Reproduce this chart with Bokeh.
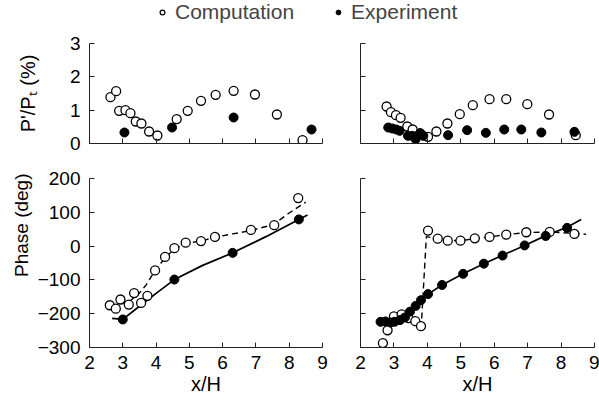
from bokeh.plotting import figure
from bokeh.models import Range1d, Legend, LegendItem, FixedTicker, Title
from bokeh.layouts import column, row
from bokeh.embed import file_html
from bokeh.resources import INLINE

# ---------------- data ----------------
x_ticks = [2, 3, 4, 5, 6, 7, 8, 9]
amp_ticks = [0, 1, 2, 3]
phase_ticks = [-300, -200, -100, 0, 100, 200]

# top-left: amplitude
tl_comp_x = [2.63, 2.80, 2.89, 3.08, 3.23, 3.39, 3.56, 3.79, 4.04, 4.62, 4.95, 5.35, 5.79, 6.33, 6.97, 7.63, 8.40]
tl_comp_y = [1.39, 1.57, 0.98, 1.00, 0.91, 0.66, 0.60, 0.36, 0.24, 0.73, 0.98, 1.28, 1.46, 1.58, 1.47, 0.87, 0.10]
tl_exp_x = [3.05, 4.48, 6.33, 8.67]
tl_exp_y = [0.33, 0.48, 0.78, 0.42]

# top-right: amplitude
tr_comp_x = [2.78, 2.91, 3.06, 3.20, 3.40, 3.56, 3.79, 4.02, 4.27, 4.60, 4.97, 5.36, 5.86, 6.36, 6.99, 7.64, 8.44]
tr_comp_y = [1.11, 0.94, 0.85, 0.77, 0.51, 0.42, 0.30, 0.20, 0.36, 0.60, 0.88, 1.15, 1.33, 1.33, 1.18, 0.87, 0.25]
tr_exp_x = [2.83, 2.95, 3.07, 3.17, 3.42, 3.55, 3.65, 3.78, 3.88, 4.62, 5.19, 5.75, 6.30, 6.81, 7.41, 8.40]
tr_exp_y = [0.48, 0.45, 0.42, 0.38, 0.23, 0.23, 0.13, 0.31, 0.23, 0.25, 0.40, 0.32, 0.42, 0.42, 0.33, 0.35]

# bottom-left: phase
bl_comp_x = [2.61, 2.79, 2.93, 3.18, 3.34, 3.55, 3.74, 3.97, 4.27, 4.55, 4.89, 5.35, 5.77, 6.85, 7.55, 8.27]
bl_comp_y = [-175, -185, -158, -173, -139, -168, -147, -72, -32, -6, 10, 15, 27, 48, 62, 142]
bl_comp_line_x = [2.6, 2.9, 3.2, 3.45, 3.7, 3.97, 4.27, 4.55, 4.89, 5.35, 5.77, 6.3, 6.85, 7.53, 8.0, 8.5]
bl_comp_line_y = [-178, -170, -163, -145, -115, -72, -35, -8, 8, 15, 26, 36, 46, 64, 98, 130]
bl_exp_x = [3.0, 4.55, 6.30, 8.29]
bl_exp_y = [-217, -99, -20, 79]
bl_exp_line_x = [2.68, 3.0, 3.5, 4.0, 4.55, 5.4, 6.3, 7.3, 8.29, 8.55]
bl_exp_line_y = [-214, -217, -178, -140, -99, -57, -20, 28, 79, 92]

# bottom-right: phase
br_comp_x = [2.67, 2.81, 3.00, 3.23, 3.44, 3.64, 3.81, 4.02, 4.31, 4.61, 4.99, 5.42, 5.86, 6.36, 6.96, 7.66, 8.40]
br_comp_y = [-287, -249, -208, -202, -213, -222, -237, 46, 22, 16, 16, 23, 27, 34, 41, 42, 36]
br_comp_line_x = [2.62, 2.81, 3.0, 3.23, 3.44, 3.64, 3.82, 3.97, 4.31, 4.61, 4.99, 5.42, 5.86, 6.36, 6.96, 7.66, 8.0, 8.75]
br_comp_line_y = [-222, -215, -208, -203, -212, -222, -233, 28, 22, 17, 16, 22, 27, 34, 40, 42, 40, 35]
br_exp_x = [2.60, 2.75, 2.90, 3.02, 3.18, 3.33, 3.48, 3.65, 3.81, 4.02, 4.44, 5.07, 5.69, 6.25, 6.91, 7.54, 8.18]
br_exp_y = [-224, -223, -226, -224, -219, -211, -194, -177, -160, -142, -115, -82, -52, -28, 2, 30, 54]
br_exp_line_x = [2.52, 3.0, 3.2, 3.45, 3.65, 4.02, 4.44, 5.07, 5.69, 6.25, 6.91, 7.54, 8.18, 8.60]
br_exp_line_y = [-223, -224, -218, -200, -178, -142, -115, -82, -52, -27, 2, 31, 56, 79]

legend_labels = ["Computation", "Experiment"]
amp_label = "P'/P\u209c (%)"
phase_label = "Phase (deg)"
x_label = "x/H"

# ---------------- style ----------------
FONT = "Liberation Sans"
TICK_FS = "19px"
LAB_FS = "20px"
MSIZE = 9

LEFT_W, RIGHT_W = 334, 265
TOP_H, BOT_H = 129, 244


def make_fig(width, height, bl, br, bt, bb, yrange, yticks, show_xlabels, show_ylabels):
    p = figure(width=width, height=height, x_range=Range1d(2, 9), y_range=Range1d(*yrange),
               output_backend="svg", toolbar_location=None,
               min_border_left=bl, min_border_right=br, min_border_top=bt, min_border_bottom=bb)
    p.outline_line_color = None
    p.grid.visible = False
    for ax in p.axis:
        ax.major_tick_in = 5
        ax.major_tick_out = 0
        ax.minor_tick_line_color = None
        ax.axis_line_color = "#222222"
        ax.major_tick_line_color = "#222222"
        ax.major_label_text_font = FONT
        ax.major_label_text_font_size = TICK_FS
        ax.major_label_text_color = "black"
        ax.axis_label_text_font = FONT
        ax.axis_label_text_font_size = LAB_FS
        ax.axis_label_text_font_style = "normal"
        ax.axis_label_text_color = "black"
    p.xaxis.ticker = FixedTicker(ticks=x_ticks)
    p.yaxis.ticker = FixedTicker(ticks=yticks)
    p.xaxis.major_label_standoff = 8
    p.yaxis.major_label_standoff = 9
    if not show_xlabels:
        p.xaxis.major_label_text_font_size = "0px"
        p.xaxis.major_label_text_color = None
        p.xaxis.major_label_standoff = 0
    else:
        p.xaxis.axis_label = x_label
        p.xaxis.axis_label_standoff = 1
    if not show_ylabels:
        p.yaxis.major_label_text_font_size = "0px"
        p.yaxis.major_label_text_color = None
        p.yaxis.major_label_standoff = 0
    return p


def open_pts(p, x, y, size=MSIZE):
    return p.scatter(x, y, marker="circle", size=size, fill_color="white", line_color="black", line_width=1.3)


def filled_pts(p, x, y, size=MSIZE):
    return p.scatter(x, y, marker="circle", size=size, fill_color="black", line_color="black", line_width=1)


# legend strip (its marker renderers sit outside the visible range; only the legend shows)
lg = figure(width=599, height=28, x_range=Range1d(0, 1), y_range=Range1d(0, 1),
            x_axis_location=None, y_axis_location=None, output_backend="svg",
            toolbar_location=None, min_border=0)
lg.outline_line_color = None
lg.grid.visible = False
r_open = lg.scatter([-5], [-5], marker="circle", size=7, fill_color="white", line_color="black", line_width=1.2)
r_fill = lg.scatter([-5], [-5], marker="circle", size=7, fill_color="black", line_color="black")
legend = Legend(items=[LegendItem(label=legend_labels[0], renderers=[r_open]),
                       LegendItem(label=legend_labels[1], renderers=[r_fill])],
                orientation="horizontal", location=(156, 4),
                glyph_width=12, glyph_height=12, label_standoff=7, spacing=38,
                padding=0, margin=0, border_line_color=None, background_fill_alpha=0,
                label_text_font=FONT, label_text_font_size="21px")
lg.add_layout(legend)

# top-left
tl = make_fig(LEFT_W, TOP_H, 89, 12, 15, 14, (0, 3), amp_ticks, False, True)
tl.yaxis.axis_label = amp_label
tl.yaxis.axis_label_standoff = 28
open_pts(tl, tl_comp_x, tl_comp_y)
filled_pts(tl, tl_exp_x, tl_exp_y)

# top-right
tr = make_fig(RIGHT_W, TOP_H, 26, 5, 15, 14, (0, 3), amp_ticks, False, False)
open_pts(tr, tr_comp_x, tr_comp_y)
filled_pts(tr, tr_exp_x, tr_exp_y)

# bottom-left
bl = make_fig(LEFT_W, BOT_H, 89, 12, 21, 54, (-300, 200), phase_ticks, True, True)
bl.line(bl_comp_line_x, bl_comp_line_y, line_color="black", line_width=1.4, line_dash="6 4")
bl.line(bl_exp_line_x, bl_exp_line_y, line_color="black", line_width=1.7)
open_pts(bl, bl_comp_x, bl_comp_y)
filled_pts(bl, bl_exp_x, bl_exp_y)
bl.add_layout(Title(text=phase_label, align="right", offset=-5, standoff=6,
                    text_font=FONT, text_font_size="19px", text_font_style="normal",
                    text_color="black"), "left")

# bottom-right
br = make_fig(RIGHT_W, BOT_H, 26, 5, 21, 54, (-300, 200), phase_ticks, True, False)
br.line(br_comp_line_x, br_comp_line_y, line_color="black", line_width=1.4, line_dash="6 4")
br.line(br_exp_line_x, br_exp_line_y, line_color="black", line_width=1.7)
open_pts(br, br_comp_x, br_comp_y)
filled_pts(br, br_exp_x, br_exp_y)

layout = column(lg, row(tl, tr), row(bl, br))
open("out.html", "w").write(file_html(layout, INLINE))
